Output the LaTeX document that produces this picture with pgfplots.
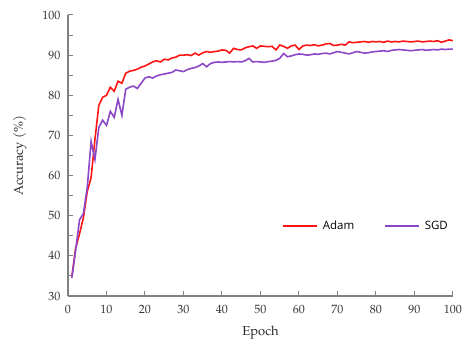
\documentclass[border=0pt]{standalone}
\usepackage{fontspec}
\setmainfont{TeX Gyre Pagella}
\newfontfamily\legfont{Open Sans}
\usepackage{pgfplots}
\pgfplotsset{compat=1.18}
\usetikzlibrary{calc}
\definecolor{adamred}{RGB}{255,20,20}
\definecolor{sgdpurple}{RGB}{140,70,200}
\definecolor{axgray}{RGB}{128,128,128}
\begin{document}
\begin{tikzpicture}
\begin{axis}[
  scale only axis,
  width=385pt, height=281pt,
  xmin=0, xmax=100, ymin=30, ymax=100,
  axis lines*=left,
  axis line style={axgray, line width=1.2pt},
  xtick={0,10,...,100}, ytick={30,40,...,100},
  minor ytick={35,45,...,95},
  tick align=inside,
  major tick length=5pt, minor tick length=5pt,
  tick style={axgray, line width=1pt},
  tick label style={font=\fontsize{12}{14}\selectfont, text=black!80},
  /pgf/number format/assume math mode=true,
  xticklabel style={yshift=-6pt},
  yticklabel style={xshift=-4pt},
  xlabel={Epoch}, ylabel={Accuracy\hspace{4pt}(\%)},
  label style={font=\fontsize{13}{15}\selectfont, text=black!85},
  xlabel style={yshift=-5pt},
  ylabel style={yshift=9pt},
  legend style={draw=none, fill=none, at={(axis cs:54.8,47.4)}, anchor=west,
    font=\legfont\fontsize{11.5}{13}\selectfont, column sep=2pt,
    /tikz/every odd column/.append style={column sep=3pt},
    /tikz/every even column/.append style={column sep=28pt}},
  legend columns=2,
  legend cell align=left,
  legend image code/.code={\draw[#1, line width=1.6pt] (0pt,0pt) -- (34pt,0pt);},
]
\addplot[adamred, line width=1.6pt] coordinates {
(1,34.8)(2,42)(3,45.5)(4,49.5)(5,56)(6,59.5)(7,69)(8,77.5)(9,79.5)(10,80)
(11,82)(12,81)(13,83.5)(14,83)(15,85.5)(16,86)(17,86.2)(18,86.5)(19,87)(20,87.3)
(21,87.8)(22,88.3)(23,88.6)(24,88.3)(25,89)(26,88.8)(27,89.3)(28,89.5)(29,90)(30,90)
(31,90.1)(32,89.9)(33,90.5)(34,90)(35,90.6)(36,90.9)(37,90.7)(38,90.9)(39,91)(40,91.3)
(41,91.2)(42,90.5)(43,91.7)(44,91.4)(45,91.3)(46,91.8)(47,92.1)(48,92.3)(49,91.7)(50,92.3)
(51,92.2)(52,92.1)(53,92.2)(54,91.3)(55,92.5)(56,92.2)(57,91.7)(58,92.3)(59,92.5)(60,91.4)
(61,92.3)(62,92.5)(63,92.4)(64,92.6)(65,92.3)(66,92.5)(67,92.8)(68,92.9)(69,92.4)(70,92.5)
(71,92.7)(72,92.5)(73,93.3)(74,93.1)(75,93.2)(76,93.3)(77,93.4)(78,93.2)(79,93.4)(80,93.3)
(81,93.4)(82,93.2)(83,93.5)(84,93.3)(85,93.4)(86,93.3)(87,93.5)(88,93.4)(89,93.3)(90,93.4)
(91,93.5)(92,93.3)(93,93.4)(94,93.5)(95,93.4)(96,93.6)(97,93.2)(98,93.5)(99,93.8)(100,93.6)
};
\addlegendentry{Adam}
\addplot[sgdpurple, line width=1.6pt] coordinates {
(1,34.5)(2,41.5)(3,49)(4,50.5)(5,57)(6,68.5)(7,64)(8,72)(9,73.8)(10,72.5)
(11,76)(12,74.5)(13,79)(14,75)(15,81.5)(16,82)(17,82.3)(18,81.7)(19,83)(20,84.3)
(21,84.6)(22,84.3)(23,84.8)(24,85.1)(25,85.3)(26,85.5)(27,85.7)(28,86.3)(29,86.1)(30,85.9)
(31,86.4)(32,86.7)(33,86.9)(34,87.3)(35,87.9)(36,87.1)(37,87.9)(38,88.2)(39,88.3)(40,88.2)
(41,88.3)(42,88.4)(43,88.3)(44,88.4)(45,88.3)(46,88.6)(47,89.2)(48,88.3)(49,88.4)(50,88.3)
(51,88.2)(52,88.4)(53,88.5)(54,88.7)(55,89.2)(56,90.4)(57,89.6)(58,89.8)(59,90.1)(60,90.3)
(61,90.2)(62,90.0)(63,90.1)(64,90.3)(65,90.2)(66,90.4)(67,90.5)(68,90.3)(69,90.6)(70,90.9)
(71,90.7)(72,90.5)(73,90.3)(74,90.6)(75,90.9)(76,90.7)(77,90.5)(78,90.6)(79,90.8)(80,90.9)
(81,91.0)(82,91.1)(83,90.9)(84,91.2)(85,91.3)(86,91.4)(87,91.3)(88,91.2)(89,91.1)(90,91.2)
(91,91.3)(92,91.4)(93,91.2)(94,91.3)(95,91.4)(96,91.3)(97,91.5)(98,91.4)(99,91.5)(100,91.5)
};
\addlegendentry{SGD}
\end{axis}
\pgfresetboundingbox
\path[use as bounding box] ($(current axis.south west)+(-68pt,-46pt)$) rectangle ($(current axis.north east)+(11pt,15pt)$);
\end{tikzpicture}
\end{document}
